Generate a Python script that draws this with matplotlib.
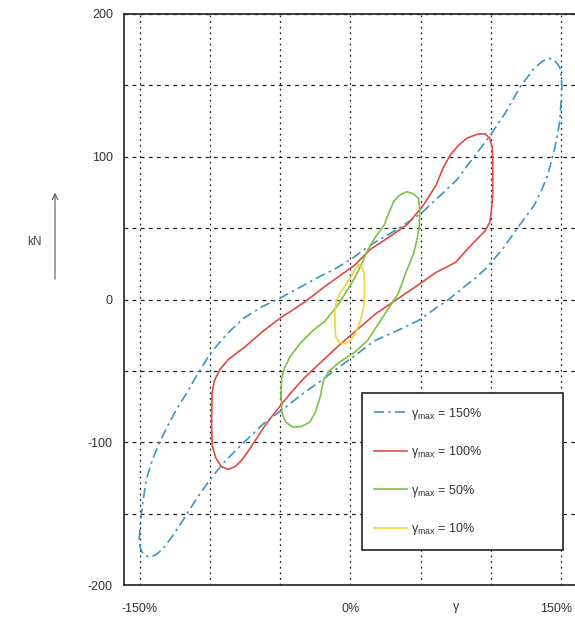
# Hysteresis loops: force (kN) vs shear strain (gamma) for four strain amplitudes
import matplotlib
matplotlib.use('Agg')
import matplotlib.pyplot as plt
import matplotlib.transforms as mtransforms

# loop for gamma_max = 150% (closed loop)
gamma_150 = [-150.6, -149.5, -148, -145.5, -141, -136, -130, -124, -117, -110, -100, -88, -76, -63,
             -50, -37, -24, -10, 3, 14, 33, 50, 61, 76, 85, 99, 110, 121, 131, 137, 142, 146, 149,
             150.5, 150.7, 150, 149.3, 147.5, 145.6, 143, 140.6, 136, 131, 125, 119, 114, 109, 103,
             97, 89, 80, 70, 61, 48, 33, 17, 5, -9, -21, -34, -47, -62, -79, -90, -100, -110, -119,
             -127, -134, -139, -143, -146, -148.5, -150, -150.6]
force_150 = [-168, -155, -142, -126, -112, -100, -88, -77, -66, -54, -38, -24, -13, -5,
             1, 8, 15, 22, 30, 38, 49, 60, 70, 84, 96, 114, 130, 149, 162, 167, 169, 167, 163,
             156, 148, 136, 125, 115, 106, 96, 87, 76, 66, 58, 50, 43, 36, 29,
             22, 15, 8, 0, -6, -15, -22, -29, -38, -48, -57, -66, -76, -87, -103, -114, -126, -140, -154,
             -166, -175, -179, -180.5, -179.5, -177, -173, -168]

# loop for gamma_max = 100%
gamma_100 = [-99, -98.6, -97, -93, -87, -75, -62, -50, -33, -17, 3, 14, 28, 41, 52, 61, 66, 71, 77,
             83, 91, 96, 99.3, 101, 101.4, 101.5, 101.4, 100.5, 99.3, 96, 92, 84, 75, 61, 48, 33, 18,
             5, -8, -20, -33, -43, -52, -60, -66, -72, -77, -82, -87, -92, -96, -98.6, -99]
force_100 = [-85, -65, -57, -49, -42, -33, -22, -13, -2, 10, 24, 35, 44, 53, 66, 80, 92, 101, 108,
             113, 116, 116, 113, 107, 100, 88, 73, 62, 54, 48, 44, 36, 26, 19, 10, 0, -10,
             -21, -32, -43, -55, -66, -77, -87, -96, -105, -112, -117, -119, -117, -111, -102, -85]

# loop for gamma_max = 50%
gamma_50 = [-49.5, -49, -47, -43, -36, -27, -18, -9, -2, 3, 8, 12, 18, 24, 28, 31, 35, 40, 45, 48.5,
            49.5, 49, 47, 45, 40, 34, 26, 18, 12, 3, -8, -15, -19, -21.5, -25, -29, -35, -41, -46,
            -48.6, -49.5]
force_50 = [-68, -55, -48, -40, -31, -22, -15, -4, 7, 15, 25, 34, 44, 52, 62, 69, 73, 75.5, 74, 71,
            63, 50, 40, 32, 20, 4, -8, -20, -29, -37, -44, -50, -56, -68, -79, -86, -89, -89.5, -86,
            -80, -68]

# loop for gamma_max = 10%
gamma_10 = [6, 8, 9.5, 10, 10, 9.5, 7, 4, 0, -4, -8, -10.5, -11, -11, -10, -7, -3, 1, 4, 6]
force_10 = [24, 23, 19, 12, 3, -6, -15, -23, -29, -31, -30, -26, -18, -8, -1, 5, 11, 17, 22, 24]

labels = ['γ$_{\\mathrm{max}}$ = 150%', 'γ$_{\\mathrm{max}}$ = 100%',
          'γ$_{\\mathrm{max}}$ = 50%', 'γ$_{\\mathrm{max}}$ = 10%']

x_ticks = [-150, -100, -50, 0, 50, 100, 150]
x_ticklabels = ['-150%', '', '', '0%', '', '', '150%']
y_ticks = [-200, -150, -100, -50, 0, 50, 100, 150, 200]
y_ticklabels = ['-200', '', '-100', '', '0', '', '100', '', '200']

plt.rcParams['font.family'] = ['Liberation Sans', 'DejaVu Sans']
plt.rcParams['mathtext.fontset'] = 'custom'
plt.rcParams['mathtext.rm'] = 'Liberation Sans'

fig = plt.figure(figsize=(5.75, 6.23), dpi=100)
# right border of the box runs off the scanned page, so let the axes overflow the figure
ax = fig.add_axes([124 / 575, 1 - 585 / 623, 467 / 575, 571 / 623])

ax.plot(gamma_150, force_150, color='#3b95c4', lw=1.2, ls=(0, (6, 2.5, 1.5, 2.5)), label=labels[0])
ax.plot(gamma_100, force_100, color='#e04a45', lw=1.2, label=labels[1])
ax.plot(gamma_50, force_50, color='#7dc242', lw=1.2, label=labels[2])
ax.plot(gamma_10, force_10, color='#f2d43a', lw=1.2, label=labels[3])

ax.set_xlim(-161.4, 171.5)
ax.set_ylim(-200, 200)
ax.set_xticks(x_ticks)
ax.set_xticklabels(x_ticklabels)
ax.set_yticks(y_ticks)
ax.set_yticklabels(y_ticklabels)
ax.tick_params(axis='both', length=0, labelsize=9, labelcolor='#333333')
ax.tick_params(axis='x', pad=13)
ax.tick_params(axis='y', pad=8)

# nudge the 150% label left a little so it stays on the page
last = ax.get_xticklabels()[-1]
last.set_transform(last.get_transform() + mtransforms.ScaledTranslation(-5 / 100, 0, fig.dpi_scale_trans))

# dotted vertical / dashed horizontal grid like the scan
ax.xaxis.grid(True, color='#222222', lw=0.9, ls=(0, (1.5, 3)))
ax.yaxis.grid(True, color='#222222', lw=0.9, ls=(0, (3, 3.5)))
ax.set_axisbelow(True)
for s in ax.spines.values():
    s.set_color('#222222')
    s.set_linewidth(1.2)

# gamma label sits in the tick label row
ax.annotate('γ', xy=(75, 0), xycoords=('data', 'axes fraction'), xytext=(0, -16),
            textcoords='offset points', ha='center', va='center', fontsize=9, color='#333333')

# kN with upward arrow on the left
fig.text(35 / 575, 1 - 242 / 623, 'kN', fontsize=8.5, color='#444444', ha='center', va='center',
         rotation=0)
ax.annotate('', xy=(55, 623 - 190), xycoords='figure pixels', xytext=(55, 623 - 282),
            textcoords='figure pixels',
            arrowprops=dict(arrowstyle='->', color='#555555', lw=0.8))

leg = ax.legend(loc='upper left', bbox_to_anchor=(8.2, -177.6, 143.3, 112.1),
                bbox_transform=ax.transData, mode='expand', borderaxespad=0,
                fancybox=False, framealpha=1, edgecolor='#222222', fontsize=9,
                handlelength=2.6, handletextpad=0.35, labelspacing=1.8, borderpad=1.0)
leg.get_frame().set_linewidth(1.2)
for t in leg.get_texts():
    t.set_color('#333333')

fig.savefig('out.png', dpi=100)
